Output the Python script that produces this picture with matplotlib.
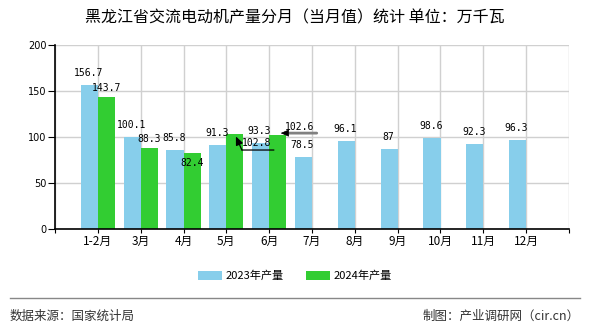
import numpy as np
import matplotlib
matplotlib.use('Agg')
import matplotlib.pyplot as plt
from matplotlib.lines import Line2D
from matplotlib.transforms import offset_copy

plt.rcParams['font.family'] = ['Noto Sans CJK SC', 'DejaVu Sans']

months = ['1-2月', '3月', '4月', '5月', '6月', '7月', '8月', '9月', '10月', '11月', '12月']
prod_2023 = [156.7, 100.1, 85.8, 91.3, 93.3, 78.5, 96.1, 87, 98.6, 92.3, 96.3]
prod_2024 = [143.7, 88.3, 82.4, 102.8, 102.6]

title = '黑龙江省交流电动机产量分月（当月值）统计 单位：万千瓦'
blue = '#87CEEB'
green = '#32CD32'
px = 72 / 100  # points per pixel at dpi 100

fig = plt.figure(figsize=(5.9, 3.3), dpi=100)
ax = fig.add_axes([55/590, 1-229/330, 514/590, 184/330])

x = np.arange(1, len(months) + 1)
w = 0.4
ax.bar(x[:len(prod_2023)] - w/2, prod_2023, width=w, color=blue, label='2023年产量', zorder=2)
ax.bar(x[:len(prod_2024)] + w/2, prod_2024, width=w, color=green, label='2024年产量', zorder=2)

ax.set_xlim(0, 12)
ax.set_ylim(0, 200)
ax.set_yticks([0, 50, 100, 150, 200])
ax.set_xticks(np.arange(0, 13))
ax.set_xticklabels([''] + months + [''], fontsize=8.5)
ax.tick_params(axis='y', labelsize=7, length=5, pad=1)
ax.tick_params(axis='x', length=3, pad=1.5)
for lbl in ax.get_yticklabels():
    lbl.set_family('DejaVu Sans')
ax.grid(True, color='#d0d0d0', linewidth=1, zorder=0)
ax.spines['top'].set_visible(False)
ax.spines['right'].set_visible(False)
for s in ['left', 'bottom']:
    ax.spines[s].set_linewidth(1.2)
ax.set_axisbelow(True)

lab_font = dict(family='DejaVu Sans Mono', fontsize=7, ha='center', va='center', zorder=5)


def seg(xy, p0, p1, color, lw, head=False):
    # line between two offsets (in pixels) from a data point
    tr = offset_copy(ax.transData, fig, x=p1[0]*px, y=p1[1]*px, units='points')
    style = '-|>,head_length=0.5,head_width=0.22' if head else '-'
    ax.annotate('', xy, xycoords=tr,
                xytext=((p0[0]-p1[0])*px, (p0[1]-p1[1])*px), textcoords='offset points',
                arrowprops=dict(arrowstyle=style, color=color, lw=lw,
                                shrinkA=0, shrinkB=0), zorder=6)


# 2023 labels
for i, v in enumerate(prod_2023):
    ax.annotate(f'{v:g}', (x[i] - w/2, v), xytext=(-1*px, 12*px),
                textcoords='offset points', **lab_font)

# 2024 labels (a few are displaced as in the source chart)
for i, v in enumerate(prod_2024):
    xb = x[i] + w/2
    if i == 2:
        ax.annotate(f'{v:g}', (xb, v), xytext=(0, -10*px),
                    textcoords='offset points', **lab_font)
    elif i == 3:
        ax.annotate(f'{v:g}', (xb, v), xytext=(22*px, -9*px),
                    textcoords='offset points', **lab_font)
        seg((xb, v), (39, -15.6), (7, -15.6), 'black', 0.9)
        seg((xb, v), (7, -15.6), (1, -2), 'black', 0.9, head=True)
    elif i == 4:
        ax.annotate(f'{v:g}', (xb, v), xytext=(22*px, 8*px),
                    textcoords='offset points', **lab_font)
        seg((xb, v), (39, 1.5), (7, 1.5), '#808080', 2)
        seg((xb, v), (9, 1.5), (3, 1.5), 'black', 0.5, head=True)
    else:
        ax.annotate(f'{v:g}', (xb, v), xytext=(0, 9*px),
                    textcoords='offset points', **lab_font)

fig.text(0.5, 1 - 18/330, title, ha='center', va='center', fontsize=11.5)

fig.legend(loc='center', bbox_to_anchor=(0.5, 1 - 276/330), ncol=2, frameon=False,
           fontsize=8, handlelength=2.2, handleheight=0.9, columnspacing=2.0,
           handletextpad=0.3)

fig.add_artist(Line2D([10/590, 580/590], [1 - 298/330, 1 - 298/330],
                      color='#888888', linewidth=1))
fig.text(10/590, 1 - 316/330, '数据来源：国家统计局', ha='left', va='center',
         fontsize=9, color='#333333')
fig.text(580/590, 1 - 316/330, '制图：产业调研网（cir.cn）', ha='right', va='center',
         fontsize=9, color='#333333')

fig.savefig('out.png', dpi=100)
